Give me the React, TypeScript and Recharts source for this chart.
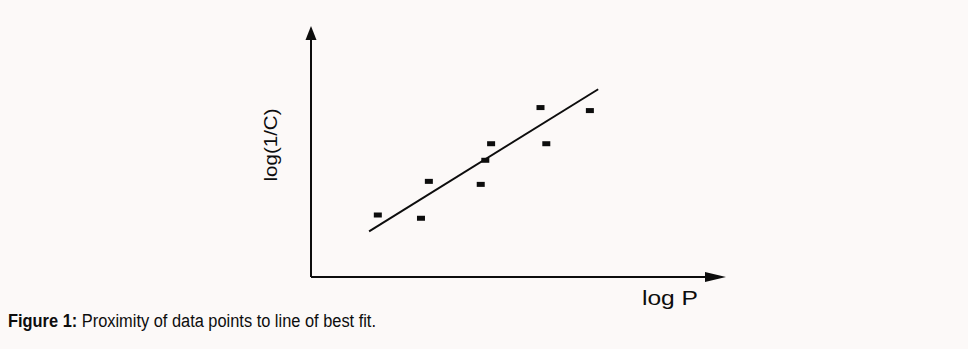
import React from 'react';
import { ComposedChart, XAxis, YAxis, Scatter, ReferenceLine } from 'recharts';

const logP = [16.1, 26.5, 28.4, 40.9, 42.0, 43.4, 55.3, 56.7, 67.2];
const logInvC = [24.7, 23.4, 38.1, 36.9, 46.5, 53.1, 67.5, 53.1, 66.3];
const fitStart = { x: 14.0, y: 18.2 };
const fitEnd = { x: 69.2, y: 74.8 };
const xLabel = 'log P';
const yLabel = 'log(1/C)';
const captionBold = 'Figure 1:';
const captionText = ' Proximity of data points to line of best fit.';

const points = logP.map((x, i) => ({ x, y: logInvC[i] }));
const yArrow = [{ x: 0, y: 100 }];
const xArrow = [{ x: 100, y: 0 }];

const W = 968;
const H = 349;
const BG = '#fcf9f8';
const INK = '#0d0d0d';
const FONT = '"Liberation Sans", Arial, sans-serif';

const Marker = (props: any) => {
  const { cx, cy } = props;
  if (cx == null || cy == null) return null;
  return <rect x={cx - 4} y={cy - 2.5} width={8} height={5} fill={INK} />;
};

const UpArrow = (props: any) => {
  const { cx, cy } = props;
  if (cx == null || cy == null) return null;
  return <polygon points={`${cx},${cy} ${cx - 5.5},${cy + 14} ${cx + 5.5},${cy + 14}`} fill={INK} />;
};

const RightArrow = (props: any) => {
  const { cx, cy } = props;
  if (cx == null || cy == null) return null;
  return <polygon points={`${cx},${cy} ${cx - 21},${cy - 5} ${cx - 21},${cy + 5}`} fill={INK} />;
};

export default function App() {
  return (
    <div style={{ position: 'absolute', left: 0, top: 0, width: W, height: H, background: BG }}>
      <ComposedChart
        width={W}
        height={H}
        margin={{ top: 26, right: W - 726, bottom: H - 277, left: 311 }}
      >
        <XAxis type="number" dataKey="x" domain={[0, 100]} hide />
        <YAxis type="number" dataKey="y" domain={[0, 100]} hide />
        <ReferenceLine
          segment={[{ x: 0, y: 0 }, { x: 97, y: 0 }]}
          stroke={INK}
          strokeWidth={2}
          ifOverflow="visible"
        />
        <ReferenceLine
          segment={[{ x: 0, y: 0 }, { x: 0, y: 96 }]}
          stroke={INK}
          strokeWidth={2}
          ifOverflow="visible"
        />
        <ReferenceLine
          segment={[fitStart, fitEnd]}
          stroke={INK}
          strokeWidth={2}
          ifOverflow="visible"
        />
        <Scatter data={points} shape={<Marker />} isAnimationActive={false} />
        <Scatter data={yArrow} shape={<UpArrow />} isAnimationActive={false} />
        <Scatter data={xArrow} shape={<RightArrow />} isAnimationActive={false} />
      </ComposedChart>
      <svg
        width={W}
        height={H}
        style={{ position: 'absolute', left: 0, top: 0, pointerEvents: 'none' }}
      >
        <text
          transform="translate(277,145) rotate(-90)"
          textAnchor="middle"
          fontFamily={FONT}
          fontSize={19}
          fill={INK}
          textLength={73}
          lengthAdjust="spacingAndGlyphs"
        >
          {yLabel}
        </text>
        <text
          x={642}
          y={305}
          fontFamily={FONT}
          fontSize={21}
          fill={INK}
          textLength={56}
          lengthAdjust="spacingAndGlyphs"
        >
          {xLabel}
        </text>
        <text
          x={8}
          y={327}
          fontFamily={FONT}
          fontSize={18}
          fill={INK}
          textLength={368}
          lengthAdjust="spacingAndGlyphs"
        >
          <tspan fontWeight="bold">{captionBold}</tspan>
          <tspan>{captionText}</tspan>
        </text>
      </svg>
    </div>
  );
}
